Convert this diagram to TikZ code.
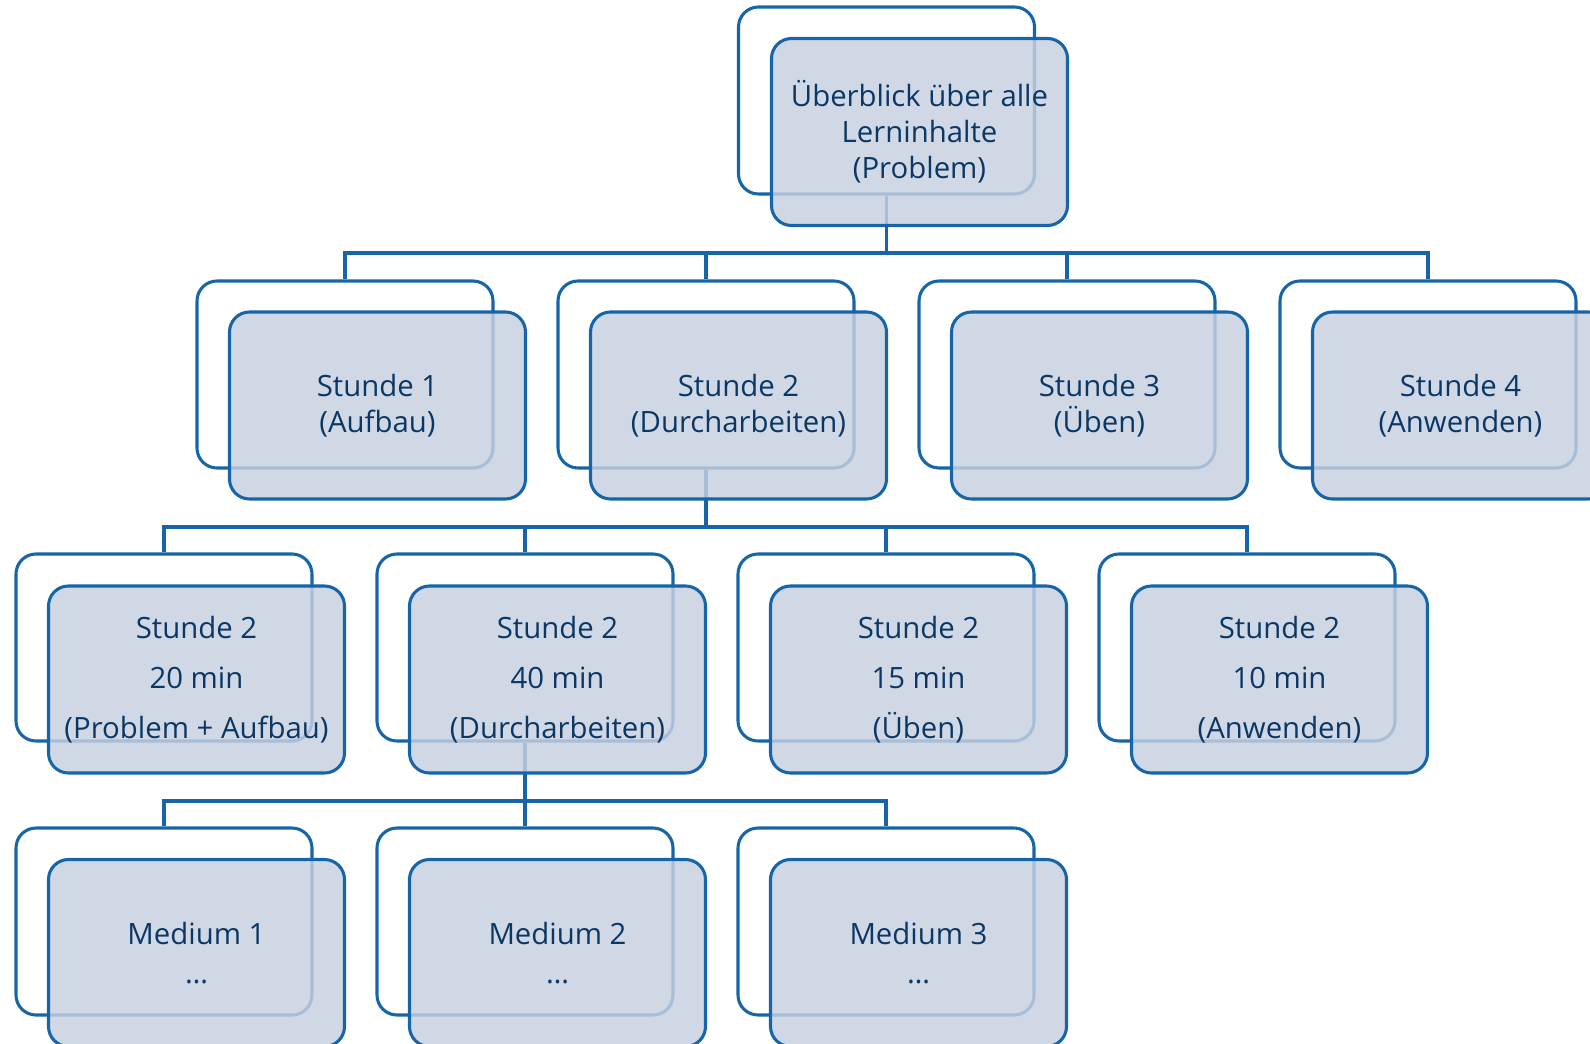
\documentclass[tikz,border=0pt]{standalone}
\usepackage{fontspec}
\setmainfont{Open Sans}
\definecolor{bordc}{HTML}{1565A8}
\definecolor{fillc}{HTML}{C6D0E1}
\definecolor{txtc}{HTML}{0B3765}
\tikzset{
  backbox/.style={draw=bordc, line width=2.3pt, rounded corners=15pt,
    minimum width=222pt, minimum height=140.25pt, inner sep=0pt},
  frontbox/.style={backbox, fill=fillc, fill opacity=0.83, text opacity=1,
    text=txtc, align=center},
  conn/.style={draw=bordc, line width=2.4pt},
  lvA/.style={font=\fontsize{22}{27}\selectfont},
  lvB/.style={font=\fontsize{22}{37.5}\selectfont},
  lvC/.style={font=\fontsize{22}{29}\selectfont},
}
\begin{document}
\begin{tikzpicture}[x=0.75pt,y=-0.75pt]
\useasboundingbox (0,0) rectangle (1590,1044);
\begin{scope}
\clip (0,0) rectangle (1590,1044);
% bus levels
\coordinate (b1) at (0,253);
\coordinate (b2) at (0,527);
\coordinate (b3) at (0,801);
% back boxes
\node[backbox] (T)  at (886.5,100.5) {};
\node[backbox] (A1) at (345,374.5) {};
\node[backbox] (A2) at (706,374.5) {};
\node[backbox] (A3) at (1067,374.5) {};
\node[backbox] (A4) at (1428,374.5) {};
\node[backbox] (B1) at (164,647.5) {};
\node[backbox] (B2) at (525,647.5) {};
\node[backbox] (B3) at (886,647.5) {};
\node[backbox] (B4) at (1247,647.5) {};
\node[backbox] (C1) at (164,921.5) {};
\node[backbox] (C2) at (525,921.5) {};
\node[backbox] (C3) at (886,921.5) {};
% connectors
\foreach \c in {A1,A2,A3,A4}
  \draw[conn] (T.south) -- (T.south |- b1) -| (\c.north);
\foreach \c in {B1,B2,B3,B4}
  \draw[conn] (A2.south) -- (A2.south |- b2) -| (\c.north);
\foreach \c in {C1,C2,C3}
  \draw[conn] (B2.south) -- (B2.south |- b3) -| (\c.north);
% front boxes
\node[frontbox,lvA] (Tf) at (919.5,132) {Überblick über alle\\Lerninhalte\\(Problem)};
\node[frontbox,lvA] (A1f) at (377.5,405.5) {Stunde 1\\(Aufbau)};
\node[frontbox,lvA] (A2f) at (738.5,405.5) {Stunde 2\\(Durcharbeiten)};
\node[frontbox,lvA] (A3f) at (1099.5,405.5) {Stunde 3\\(Üben)};
\node[frontbox,lvA] (A4f) at (1460.5,405.5) {Stunde 4\\(Anwenden)};
\node[frontbox,lvB] (B1f) at (196.5,679.5) {Stunde 2\\20 min\\(Problem + Aufbau)};
\node[frontbox,lvB] (B2f) at (557.5,679.5) {Stunde 2\\40 min\\(Durcharbeiten)};
\node[frontbox,lvB] (B3f) at (918.5,679.5) {Stunde 2\\15 min\\(Üben)};
\node[frontbox,lvB] (B4f) at (1279.5,679.5) {Stunde 2\\10 min\\(Anwenden)};
\node[frontbox,lvC] (C1f) at (196.5,953) {Medium 1\\…};
\node[frontbox,lvC] (C2f) at (557.5,953) {Medium 2\\…};
\node[frontbox,lvC] (C3f) at (918.5,953) {Medium 3\\…};
\end{scope}
\end{tikzpicture}
\end{document}
